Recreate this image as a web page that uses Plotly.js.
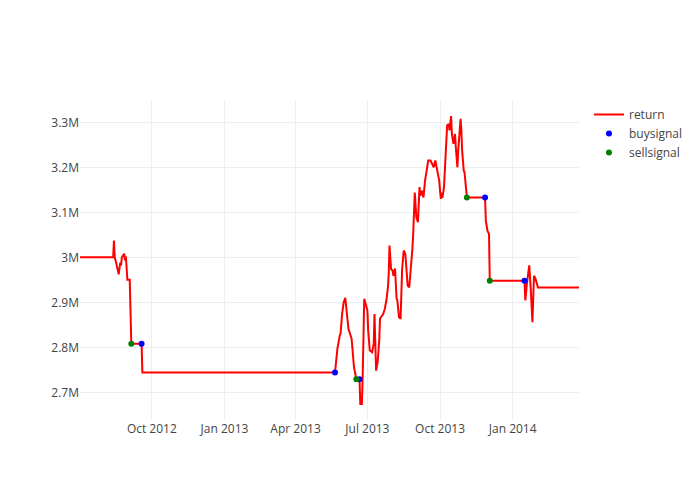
<!DOCTYPE html>
<html>
<head>
<meta charset="utf-8">
<script src="https://cdn.plot.ly/plotly-3.0.1.min.js"></script>
<style>html,body{margin:0;padding:0;background:#fff;}#chart{width:700px;height:500px;}</style>
</head>
<body>
<div id="chart"></div>
<script>
var returnDates = [
"2012-07-02","2012-08-13","2012-08-14","2012-08-15","2012-08-17","2012-08-20","2012-08-22","2012-08-23","2012-08-24","2012-08-27",
"2012-08-28","2012-08-29","2012-08-30","2012-08-31","2012-09-03","2012-09-05","2012-09-18","2012-09-19","2013-05-21","2013-05-22",
"2013-05-24","2013-05-27","2013-05-28","2013-05-30","2013-06-01","2013-06-03","2013-06-05","2013-06-07","2013-06-11","2013-06-14",
"2013-06-17","2013-06-21","2013-06-22","2013-06-24","2013-06-25","2013-06-27","2013-07-01","2013-07-02","2013-07-04","2013-07-07",
"2013-07-09","2013-07-10","2013-07-12","2013-07-14","2013-07-16","2013-07-17","2013-07-21","2013-07-23","2013-07-25","2013-07-27",
"2013-07-28","2013-07-29","2013-07-31","2013-08-02","2013-08-03","2013-08-05","2013-08-07","2013-08-08","2013-08-10","2013-08-12",
"2013-08-14","2013-08-16","2013-08-18","2013-08-19","2013-08-21","2013-08-23","2013-08-25","2013-08-27","2013-08-28","2013-08-30",
"2013-09-01","2013-09-03","2013-09-05","2013-09-06","2013-09-08","2013-09-10","2013-09-12","2013-09-16","2013-09-19","2013-09-21",
"2013-09-23","2013-09-25","2013-09-27","2013-09-28","2013-09-30","2013-10-01","2013-10-02","2013-10-03","2013-10-04","2013-10-06",
"2013-10-07","2013-10-09","2013-10-10","2013-10-12","2013-10-13","2013-10-15","2013-10-16","2013-10-18","2013-10-20","2013-10-21",
"2013-10-23","2013-10-24","2013-10-26","2013-10-27","2013-10-28","2013-10-29","2013-10-31","2013-11-01","2013-11-04","2013-11-27",
"2013-11-28","2013-11-30","2013-12-02","2013-12-03","2014-01-16","2014-01-17","2014-01-19","2014-01-22","2014-01-24","2014-01-26",
"2014-01-28","2014-01-30","2014-02-02","2014-03-26"
];
var returnValues = [
3000000,3000000,3037000,3000000,2986000,2962000,2988000,2982000,3000000,3008000,
2993000,3002000,2978000,2950000,2950000,2808000,2808000,2744000,2744000,2766000,
2797000,2826000,2830000,2875000,2900000,2910000,2867000,2841000,2819000,2756000,
2729000,2729000,2674000,2674000,2733000,2908000,2882000,2837000,2793000,2789000,
2808000,2874000,2748000,2768000,2815000,2864000,2874000,2885000,2904000,2933000,
2963000,3026000,2974000,2970000,2959000,2975000,2908000,2904000,2867000,2863000,
2974000,3015000,3008000,2985000,2937000,2933000,2970000,3019000,3052000,3144000,
3089000,3078000,3156000,3137000,3148000,3133000,3170000,3215000,3215000,3209000,
3200000,3215000,3196000,3193000,3170000,3148000,3130000,3144000,3132000,3156000,
3200000,3252000,3293000,3296000,3282000,3314000,3274000,3252000,3274000,3244000,
3200000,3237000,3282000,3308000,3282000,3237000,3193000,3189000,3133000,3133000,
3082000,3059000,3052000,2948000,2948000,2904000,2941000,2982000,2926000,2856000,
2959000,2952000,2933000,2933000
];
var buyDates = ["2012-09-18","2013-05-21","2013-06-21","2013-11-27","2014-01-16"];
var buyValues = [2808000,2744000,2729000,3133000,2948000];
var sellDates = ["2012-09-05","2013-06-17","2013-11-04","2013-12-03"];
var sellValues = [2808000,2729000,3133000,2948000];

var traces = [
  {x: returnDates, y: returnValues, type: "scatter", mode: "lines", name: "return",
   line: {color: "red", width: 2}},
  {x: buyDates, y: buyValues, type: "scatter", mode: "markers", name: "buysignal",
   marker: {color: "blue", size: 6}},
  {x: sellDates, y: sellValues, type: "scatter", mode: "markers", name: "sellsignal",
   marker: {color: "green", size: 6}}
];
var layout = {
  width: 700, height: 500,
  showlegend: true,
  xaxis: {type: "date"},
  yaxis: {}
};
Plotly.newPlot("chart", traces, layout, {displayModeBar: false});
</script>
</body>
</html>
